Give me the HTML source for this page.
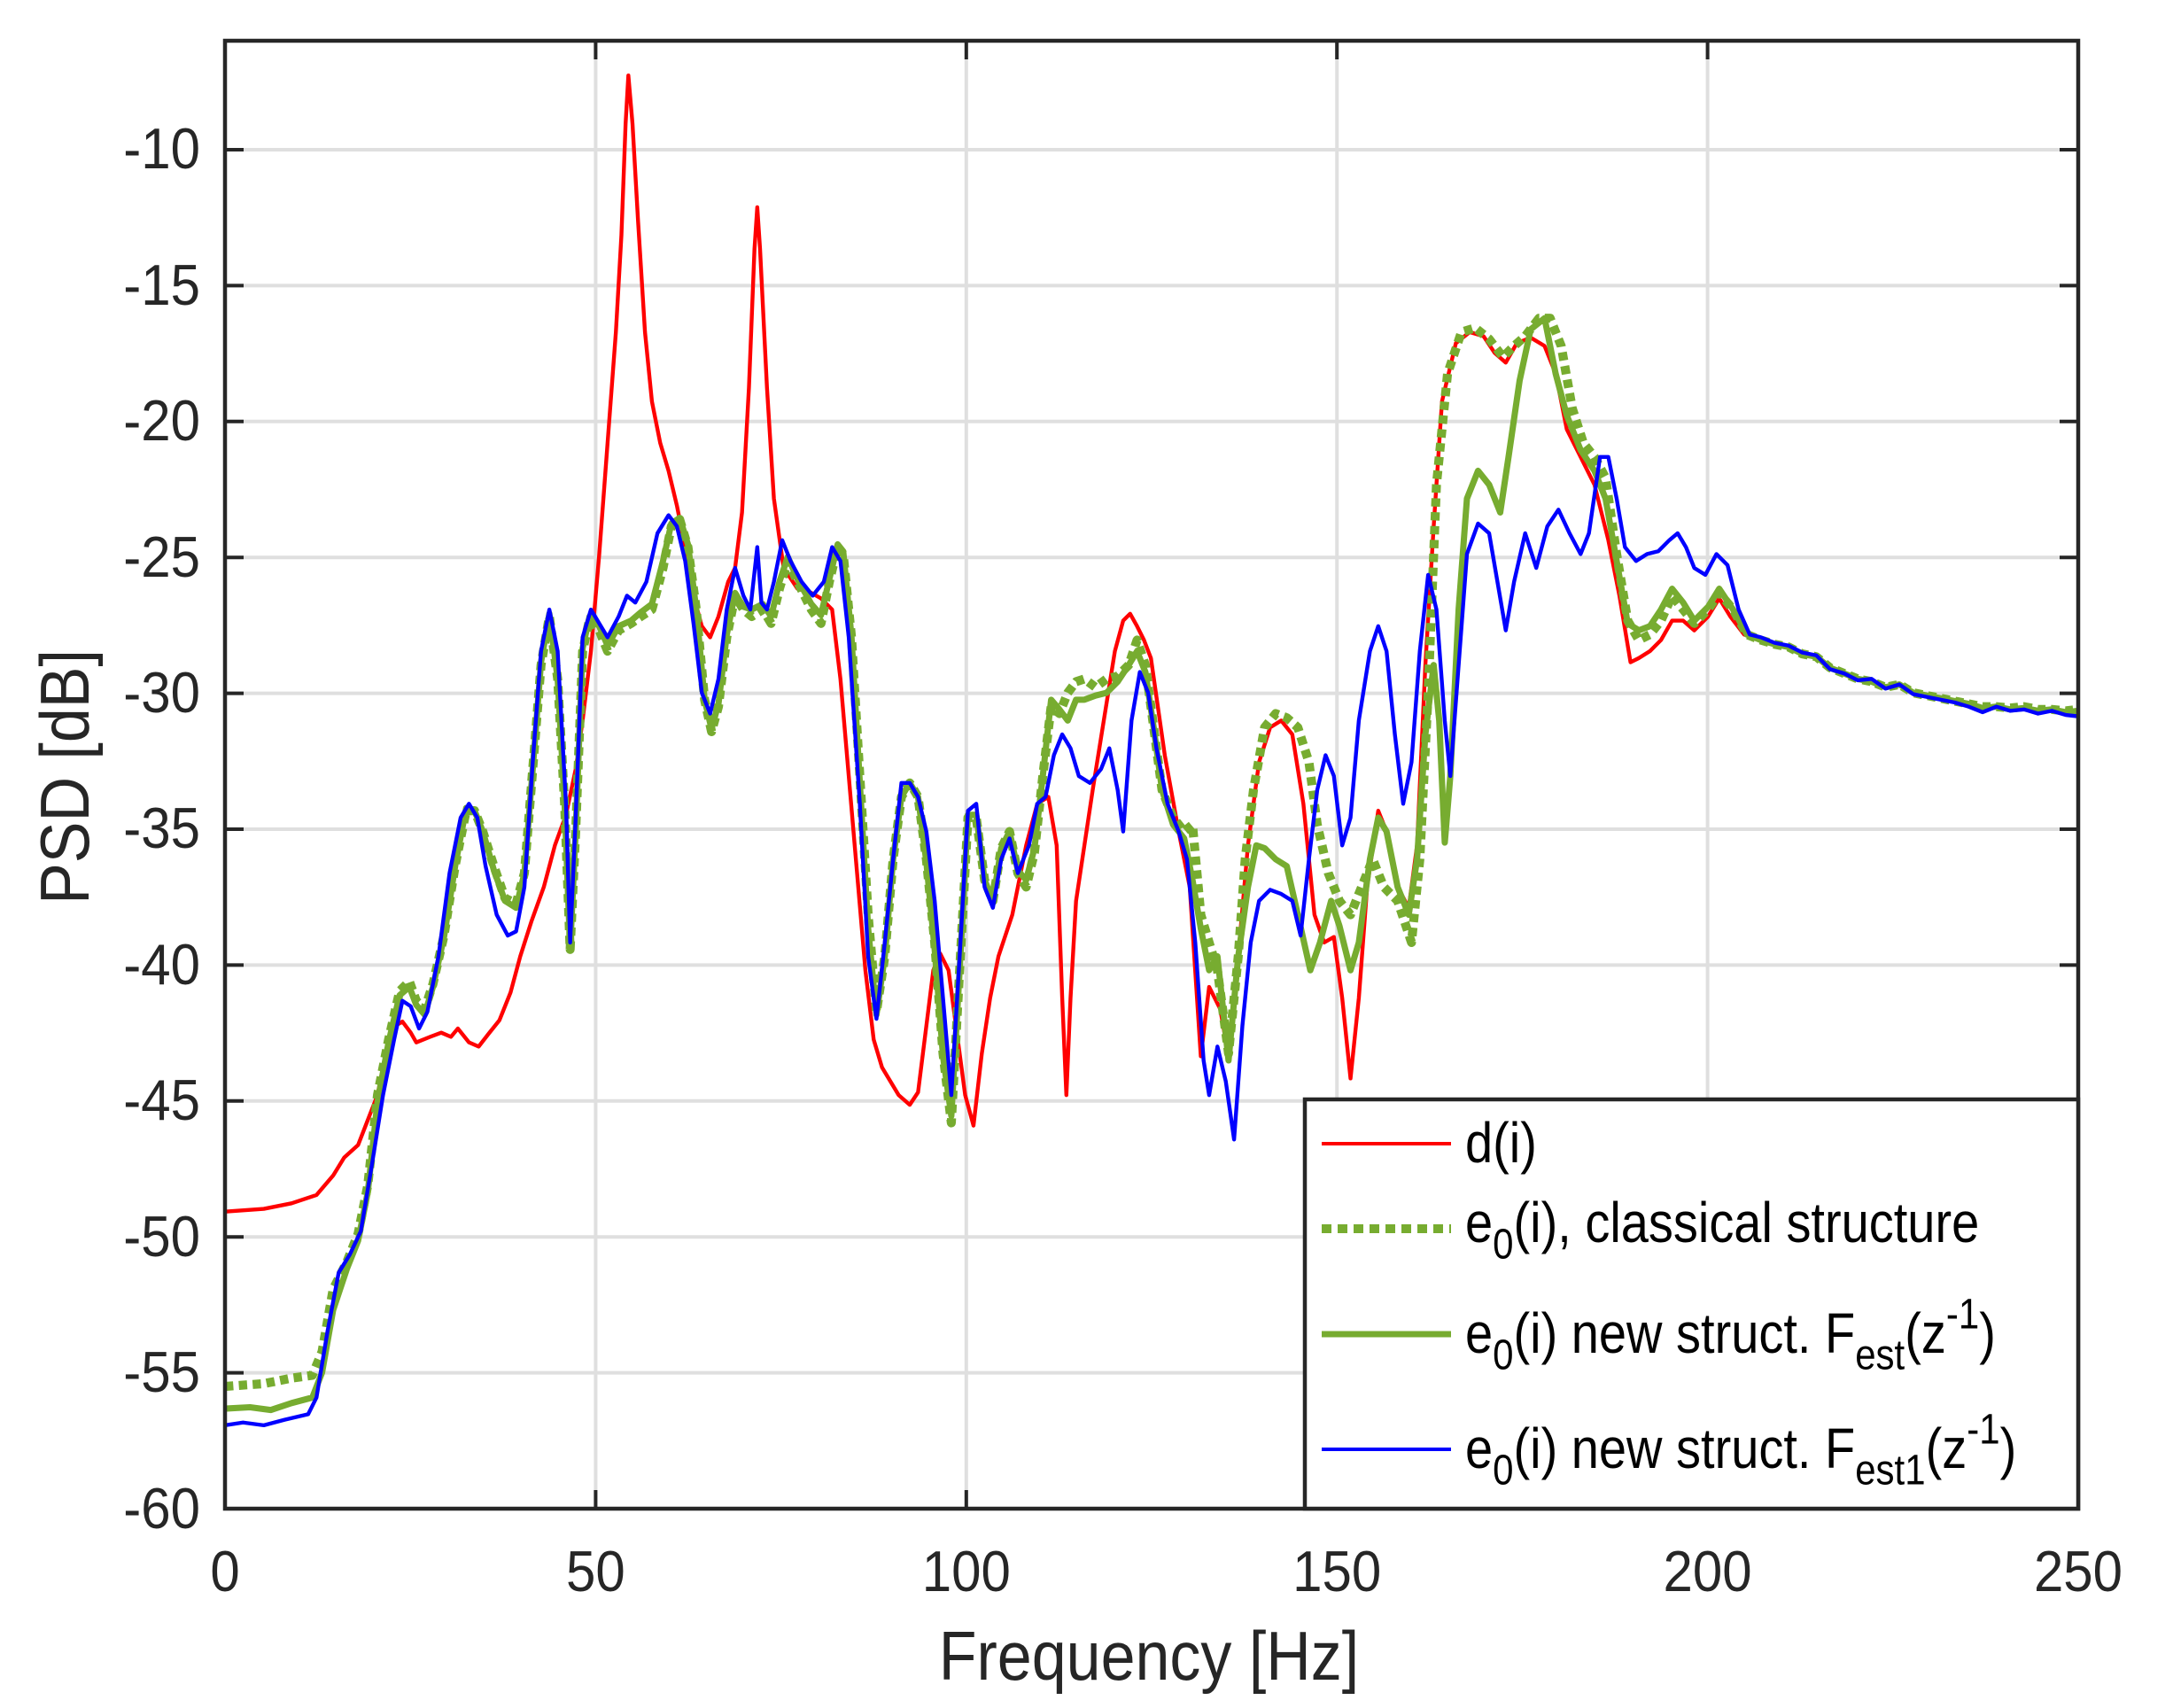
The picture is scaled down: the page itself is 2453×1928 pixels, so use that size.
<!DOCTYPE html>
<html><head><meta charset="utf-8"><style>
html,body{margin:0;padding:0;background:#fff;}
svg{display:block;}
text{font-family:"Liberation Sans",sans-serif;fill:#262626;}
</style></head><body>
<svg width="2453" height="1928" viewBox="0 0 2453 1928" xmlns="http://www.w3.org/2000/svg">
<defs><clipPath id="c"><rect x="254" y="46" width="2092" height="1657"/></clipPath></defs>
<rect x="0" y="0" width="2453" height="1928" fill="#fff"/>
<g stroke="#dfdfdf" stroke-width="4">
<line x1="672.4" y1="46" x2="672.4" y2="1703"/>
<line x1="1090.8" y1="46" x2="1090.8" y2="1703"/>
<line x1="1509.2" y1="46" x2="1509.2" y2="1703"/>
<line x1="1927.6" y1="46" x2="1927.6" y2="1703"/>
<line x1="254" y1="169" x2="2346" y2="169"/>
<line x1="254" y1="322.4" x2="2346" y2="322.4"/>
<line x1="254" y1="475.8" x2="2346" y2="475.8"/>
<line x1="254" y1="629.2" x2="2346" y2="629.2"/>
<line x1="254" y1="782.6" x2="2346" y2="782.6"/>
<line x1="254" y1="936" x2="2346" y2="936"/>
<line x1="254" y1="1089.4" x2="2346" y2="1089.4"/>
<line x1="254" y1="1242.8" x2="2346" y2="1242.8"/>
<line x1="254" y1="1396.2" x2="2346" y2="1396.2"/>
<line x1="254" y1="1549.6" x2="2346" y2="1549.6"/>
</g>
<g stroke="#262626" stroke-width="4">
<line x1="254" y1="169" x2="275" y2="169"/><line x1="2346" y1="169" x2="2325" y2="169"/>
<line x1="254" y1="322.4" x2="275" y2="322.4"/><line x1="2346" y1="322.4" x2="2325" y2="322.4"/>
<line x1="254" y1="475.8" x2="275" y2="475.8"/><line x1="2346" y1="475.8" x2="2325" y2="475.8"/>
<line x1="254" y1="629.2" x2="275" y2="629.2"/><line x1="2346" y1="629.2" x2="2325" y2="629.2"/>
<line x1="254" y1="782.6" x2="275" y2="782.6"/><line x1="2346" y1="782.6" x2="2325" y2="782.6"/>
<line x1="254" y1="936" x2="275" y2="936"/><line x1="2346" y1="936" x2="2325" y2="936"/>
<line x1="254" y1="1089.4" x2="275" y2="1089.4"/><line x1="2346" y1="1089.4" x2="2325" y2="1089.4"/>
<line x1="254" y1="1242.8" x2="275" y2="1242.8"/>
<line x1="254" y1="1396.2" x2="275" y2="1396.2"/>
<line x1="254" y1="1549.6" x2="275" y2="1549.6"/>
<line x1="672.4" y1="1703" x2="672.4" y2="1682"/><line x1="672.4" y1="46" x2="672.4" y2="67"/>
<line x1="1090.8" y1="1703" x2="1090.8" y2="1682"/><line x1="1090.8" y1="46" x2="1090.8" y2="67"/>
<line x1="1509.2" y1="46" x2="1509.2" y2="67"/>
<line x1="1927.6" y1="46" x2="1927.6" y2="67"/>
</g>
<g clip-path="url(#c)">
<g transform="translate(254 46) scale(1.5647 1.566) translate(-162 -30)" fill="none" stroke-linejoin="round" stroke-linecap="butt">
<path stroke="#ff0000" stroke-width="2.8" d="M162,874 L190,872 L210,868 L228,862 L240,848 L248,835 L258,826 L265,808 L272,790 L278,760 L285,740 L290,737 L296,745 L300,752 L310,748 L318,745 L325,748 L330,742 L338,752 L345,755 L352,746 L360,736 L368,716 L375,690 L383,665 L392,640 L400,610 L408,588 L415,555 L420,520 L426,470 L432,400 L438,320 L444,240 L448,170 L451,90 L453,55 L456,90 L460,160 L465,240 L470,290 L476,320 L482,340 L488,365 L494,395 L500,430 L506,452 L512,460 L518,445 L525,420 L530,410 L535,370 L540,280 L544,180 L546,150 L548,180 L553,280 L558,360 L565,410 L575,425 L585,428 L592,432 L600,440 L606,490 L612,560 L618,630 L624,700 L630,750 L636,770 L642,780 L648,790 L656,797 L662,788 L668,740 L673,700 L678,688 L684,700 L690,745 L696,790 L702,812 L708,760 L714,720 L720,690 L730,660 L740,610 L748,580 L756,575 L762,610 L766,720 L769,790 L772,720 L776,650 L782,610 L788,570 L796,520 L804,470 L810,448 L815,443 L820,452 L825,462 L830,475 L840,545 L850,600 L858,640 L866,762 L872,712 L880,728 L886,762 L893,690 L900,610 L908,550 L916,525 L924,520 L932,530 L940,580 L948,660 L955,680 L962,676 L968,720 L974,778 L980,720 L986,640 L994,585 L1000,600 L1008,640 L1016,655 L1022,610 L1028,480 L1034,380 L1040,290 L1050,248 L1060,240 L1070,243 L1078,255 L1086,262 L1094,248 L1104,244 L1114,250 L1122,270 L1130,310 L1140,330 L1150,350 L1160,390 L1168,430 L1176,478 L1182,475 L1190,470 L1198,462 L1206,448 L1214,448 L1222,455 L1232,445 L1240,432 L1248,445 L1258,458 L1270,462 L1280,465 L1290,467 L1300,472 L1310,474 L1320,482 L1330,486 L1340,490 L1350,492 L1360,496 L1370,494 L1380,500 L1390,502 L1400,504 L1410,506 L1420,508 L1430,512 L1440,510 L1450,512 L1460,511 L1470,514 L1480,513 L1490,515 L1499,516"/>
<path stroke="#77ac30" stroke-width="6.5" stroke-dasharray="6 4" d="M162,1000 L190,998 L210,994 L225,992 L232,975 L240,930 L250,910 L258,890 L265,855 L272,790 L280,750 L288,715 L295,708 L300,722 L306,728 L312,710 L320,675 L328,625 L336,585 L342,585 L348,600 L356,625 L364,648 L372,652 L378,630 L384,555 L390,480 L396,445 L402,490 L407,580 L411,685 L415,600 L420,470 L425,447 L432,455 L438,470 L446,455 L455,450 L462,445 L470,440 L478,410 L484,380 L490,375 L496,395 L502,440 L508,505 L513,528 L518,510 L524,460 L530,430 L536,440 L542,445 L550,440 L556,450 L562,425 L568,405 L575,420 L585,440 L592,450 L598,420 L604,395 L608,400 L614,460 L620,560 L626,660 L632,730 L638,690 L644,620 L650,575 L656,565 L662,575 L668,620 L674,680 L680,760 L686,810 L692,700 L698,590 L704,590 L710,635 L716,650 L722,612 L728,600 L734,630 L740,640 L746,615 L752,560 L758,510 L764,515 L770,500 L776,492 L782,490 L790,496 L798,490 L806,488 L814,480 L820,462 L826,480 L832,525 L838,570 L846,590 L854,600 L860,595 L866,660 L872,680 L878,700 L886,760 L893,690 L898,620 L904,570 L912,525 L920,515 L928,518 L936,525 L944,550 L950,595 L958,630 L966,650 L974,660 L982,640 L990,620 L998,640 L1008,650 L1018,680 L1024,620 L1030,500 L1036,350 L1044,270 L1054,240 L1064,237 L1074,245 L1084,258 L1092,250 L1100,243 L1110,230 L1118,230 L1126,250 L1134,295 L1142,320 L1150,330 L1158,345 L1166,400 L1174,448 L1182,462 L1190,458 L1198,448 L1206,430 L1214,440 L1222,450 L1232,440 L1240,428 L1250,440 L1260,458 L1270,462 L1280,465 L1290,467 L1300,472 L1310,474 L1320,482 L1330,486 L1340,490 L1350,492 L1360,496 L1370,494 L1380,500 L1390,502 L1400,504 L1410,506 L1420,508 L1430,510 L1440,510 L1450,511 L1460,510 L1470,512 L1480,512 L1490,513 L1499,512"/>
<path stroke="#77ac30" stroke-width="4.5" d="M162,1016 L180,1015 L195,1017 L210,1012 L225,1008 L232,990 L240,945 L250,915 L258,895 L265,860 L272,795 L280,752 L288,718 L295,712 L300,725 L306,732 L312,712 L320,676 L328,625 L336,583 L342,585 L348,600 L356,628 L364,650 L372,655 L378,630 L384,555 L390,478 L396,443 L402,490 L407,580 L411,685 L415,600 L420,468 L425,445 L432,452 L438,466 L446,452 L455,448 L462,442 L470,436 L478,405 L484,378 L490,374 L496,393 L502,440 L508,505 L513,526 L518,508 L524,458 L530,428 L536,438 L542,440 L550,436 L556,445 L562,420 L568,402 L575,418 L585,436 L592,444 L598,418 L604,393 L608,398 L614,460 L620,565 L626,670 L632,732 L638,690 L644,620 L650,575 L656,565 L662,575 L668,622 L674,685 L680,762 L686,805 L692,700 L698,588 L704,588 L710,635 L716,650 L722,612 L728,600 L734,628 L740,635 L746,612 L752,560 L758,505 L764,512 L770,520 L776,505 L782,505 L790,502 L798,500 L806,492 L814,480 L820,470 L826,485 L832,525 L838,570 L846,595 L854,605 L860,635 L866,670 L872,700 L878,690 L886,765 L893,690 L900,640 L906,610 L912,612 L920,620 L928,625 L936,660 L945,700 L952,680 L960,650 L966,668 L974,700 L980,680 L988,620 L994,590 L1000,600 L1008,640 L1016,660 L1022,620 L1028,530 L1034,480 L1038,520 L1042,608 L1046,560 L1052,440 L1058,360 L1066,340 L1074,350 L1082,370 L1088,330 L1096,275 L1104,238 L1114,230 L1122,270 L1130,300 L1140,325 L1150,340 L1158,360 L1166,405 L1174,450 L1182,455 L1190,452 L1198,440 L1206,425 L1214,435 L1222,448 L1232,438 L1240,425 L1250,440 L1260,458 L1270,462 L1280,465 L1290,467 L1300,472 L1310,474 L1320,482 L1330,486 L1340,490 L1350,492 L1360,496 L1370,494 L1380,500 L1390,502 L1400,504 L1410,506 L1420,508 L1430,511 L1440,510 L1450,512 L1460,511 L1470,513 L1480,512 L1490,514 L1499,513"/>
<path stroke="#0000ff" stroke-width="2.8" d="M162,1028 L175,1026 L190,1028 L205,1024 L222,1020 L228,1008 L236,960 L244,918 L252,905 L260,888 L268,840 L276,790 L284,750 L290,722 L296,726 L302,742 L308,730 L316,690 L324,630 L332,590 L338,580 L344,590 L350,625 L358,660 L366,675 L372,672 L378,640 L384,550 L390,470 L396,440 L402,470 L408,580 L411,680 L415,590 L420,460 L426,440 L432,450 L438,460 L446,445 L452,430 L458,435 L466,420 L474,385 L482,372 L488,380 L494,405 L500,450 L506,500 L512,515 L518,490 L524,440 L530,410 L536,430 L541,440 L546,395 L549,435 L553,440 L558,420 L564,390 L570,405 L578,420 L586,430 L594,420 L600,395 L606,405 L612,460 L620,580 L626,690 L632,735 L638,680 L644,620 L650,565 L656,565 L662,575 L668,600 L674,650 L680,720 L686,790 L692,690 L698,585 L704,580 L710,640 L716,655 L722,620 L728,605 L734,630 L742,610 L748,580 L754,575 L760,545 L766,530 L772,540 L778,560 L786,565 L794,555 L800,540 L806,570 L810,600 L816,520 L822,485 L828,500 L834,540 L842,580 L850,600 L856,620 L862,680 L868,765 L872,790 L878,755 L884,780 L890,822 L896,740 L902,680 L908,650 L916,642 L924,645 L932,650 L938,675 L944,620 L950,570 L956,545 L962,560 L968,610 L974,590 L980,520 L988,470 L994,452 L1000,470 L1006,530 L1012,580 L1018,550 L1024,470 L1030,415 L1036,440 L1042,520 L1046,560 L1052,480 L1058,400 L1066,378 L1074,385 L1080,420 L1086,455 L1092,420 L1100,385 L1108,410 L1116,380 L1124,368 L1132,385 L1140,400 L1146,385 L1154,330 L1160,330 L1166,360 L1172,395 L1180,405 L1188,400 L1196,398 L1204,390 L1210,385 L1216,395 L1222,410 L1230,415 L1238,400 L1246,408 L1254,440 L1262,458 L1270,460 L1280,464 L1290,466 L1300,471 L1310,473 L1320,483 L1330,486 L1340,491 L1350,490 L1360,497 L1370,494 L1380,501 L1390,503 L1400,505 L1410,507 L1420,510 L1430,514 L1440,510 L1450,513 L1460,512 L1470,515 L1480,513 L1490,516 L1499,517"/>
</g>
</g>
<rect x="254" y="46" width="2092" height="1657" fill="none" stroke="#262626" stroke-width="4.5"/>
<g font-size="60" text-anchor="end">
<text transform="translate(226 190) scale(1 1.08)">-10</text>
<text transform="translate(226 344) scale(1 1.08)">-15</text>
<text transform="translate(226 497) scale(1 1.08)">-20</text>
<text transform="translate(226 651) scale(1 1.08)">-25</text>
<text transform="translate(226 804) scale(1 1.08)">-30</text>
<text transform="translate(226 957) scale(1 1.08)">-35</text>
<text transform="translate(226 1111) scale(1 1.08)">-40</text>
<text transform="translate(226 1264) scale(1 1.08)">-45</text>
<text transform="translate(226 1418) scale(1 1.08)">-50</text>
<text transform="translate(226 1571) scale(1 1.08)">-55</text>
<text transform="translate(226 1725) scale(1 1.08)">-60</text>
</g>
<g font-size="60" text-anchor="middle">
<text transform="translate(254 1796) scale(1 1.08)">0</text>
<text transform="translate(672.4 1796) scale(1 1.08)">50</text>
<text transform="translate(1090.8 1796) scale(1 1.08)">100</text>
<text transform="translate(1509.2 1796) scale(1 1.08)">150</text>
<text transform="translate(1927.6 1796) scale(1 1.08)">200</text>
<text transform="translate(2346 1796) scale(1 1.08)">250</text>
</g>
<text transform="translate(1297 1896) scale(1 1.12)" font-size="70" text-anchor="middle">Frequency [Hz]</text>
<text transform="translate(100 877) rotate(-90) scale(1 1.12)" font-size="70" text-anchor="middle">PSD [dB]</text>
<rect x="1473" y="1241" width="873" height="462" fill="#fff" stroke="#262626" stroke-width="4.5"/>
<line x1="1492" y1="1291" x2="1638" y2="1291" stroke="#ff0000" stroke-width="4"/>
<line x1="1492" y1="1387" x2="1638" y2="1387" stroke="#77ac30" stroke-width="10" stroke-dasharray="11 7"/>
<line x1="1492" y1="1506" x2="1638" y2="1506" stroke="#77ac30" stroke-width="7"/>
<line x1="1492" y1="1636" x2="1638" y2="1636" stroke="#0000ff" stroke-width="4"/>
<g font-size="56">
<text transform="translate(1654 1312) scale(1 1.15)" style="fill:#000">d(i)</text>
<text transform="translate(1654 1402) scale(1 1.15)" style="fill:#000">e<tspan font-size="42" dy="16">0</tspan><tspan dy="-16">(i), classical structure</tspan></text>
<text transform="translate(1654 1527) scale(1 1.15)" style="fill:#000">e<tspan font-size="42" dy="16">0</tspan><tspan dy="-16">(i) new struct. F</tspan><tspan font-size="42" dy="16">est</tspan><tspan dy="-16">(z</tspan><tspan font-size="42" dy="-24">-1</tspan><tspan dy="24">)</tspan></text>
<text transform="translate(1654 1657) scale(1 1.15)" style="fill:#000">e<tspan font-size="42" dy="16">0</tspan><tspan dy="-16">(i) new struct. F</tspan><tspan font-size="42" dy="16">est1</tspan><tspan dy="-16">(z</tspan><tspan font-size="42" dy="-24">-1</tspan><tspan dy="24">)</tspan></text>
</g>
</svg>
</body></html>
